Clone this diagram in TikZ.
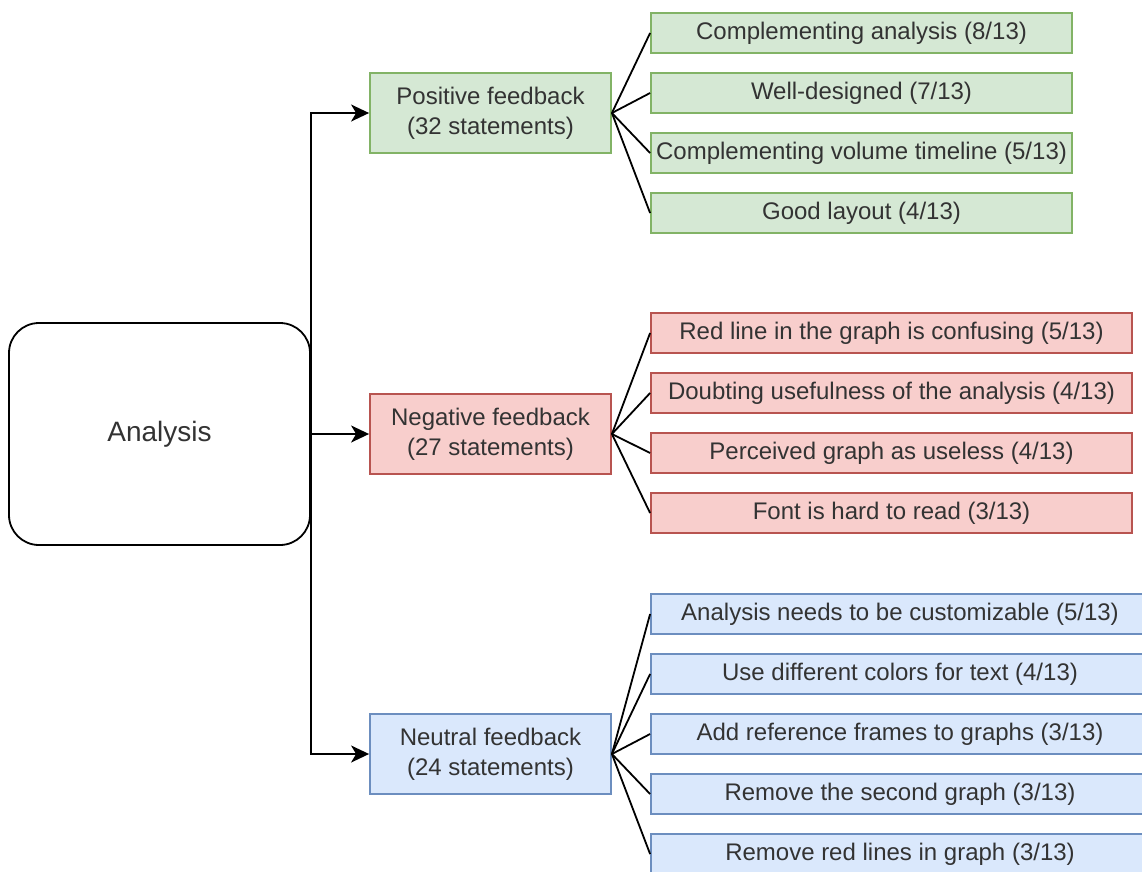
\documentclass[tikz,border=0pt]{standalone}
\usepackage{fontspec}
\setmainfont{Liberation Sans}
\usetikzlibrary{arrows.meta}
\definecolor{txt}{HTML}{333333}
\definecolor{gfill}{HTML}{D5E8D4}\definecolor{gline}{HTML}{82B366}
\definecolor{rfill}{HTML}{F8CECC}\definecolor{rline}{HTML}{B85450}
\definecolor{bfill}{HTML}{DAE8FC}\definecolor{bline}{HTML}{6C8EBF}
\tikzset{
  base/.style={rectangle, line width=1.8pt, inner sep=0pt, align=center,
    text=txt, font=\fontsize{24}{30}\selectfont},
  groupbox/.style={base, minimum width=241pt, minimum height=80pt},
  leafbox/.style={base, minimum height=40pt},
  greenbox/.style={fill=gfill, draw=gline},
  redbox/.style={fill=rfill, draw=rline},
  bluebox/.style={fill=bfill, draw=bline},
  wire/.style={line width=1.8pt, draw=black},
  feed/.style={wire, -{Stealth[length=18pt,width=17pt,inset=5pt]}}
}
\begin{document}
\begin{tikzpicture}[x=1pt, y=-1pt]
\useasboundingbox (0,0) rectangle (1142,871);

% root
\node[base, draw=black, rounded corners=30pt, minimum width=301pt, minimum height=222pt,
  font=\fontsize{28}{34}\selectfont]
  (ana) at (159.5,434) {Analysis};

% feedback groups
\node[groupbox,greenbox] (gp) at (490.5,113) {Positive feedback\\(32 statements)};
\node[groupbox,redbox]   (gn) at (490.5,434) {Negative feedback\\(27 statements)};
\node[groupbox,bluebox]  (gu) at (490.5,754) {Neutral feedback\\(24 statements)};

% positive statements
\node[leafbox,greenbox,minimum width=421pt] (p1) at (861.5,33)  {Complementing analysis (8/13)};
\node[leafbox,greenbox,minimum width=421pt] (p2) at (861.5,93)  {Well-designed (7/13)};
\node[leafbox,greenbox,minimum width=421pt] (p3) at (861.5,153) {Complementing volume timeline (5/13)};
\node[leafbox,greenbox,minimum width=421pt] (p4) at (861.5,213) {Good layout (4/13)};

% negative statements
\node[leafbox,redbox,minimum width=481pt] (n1) at (891.5,333) {Red line in the graph is confusing (5/13)};
\node[leafbox,redbox,minimum width=481pt] (n2) at (891.5,393) {Doubting usefulness of the analysis (4/13)};
\node[leafbox,redbox,minimum width=481pt] (n3) at (891.5,453) {Perceived graph as useless (4/13)};
\node[leafbox,redbox,minimum width=481pt] (n4) at (891.5,513) {Font is hard to read (3/13)};

% neutral statements
\node[leafbox,bluebox,minimum width=498pt] (u1) at (900,614) {Analysis needs to be customizable (5/13)};
\node[leafbox,bluebox,minimum width=498pt] (u2) at (900,674) {Use different colors for text (4/13)};
\node[leafbox,bluebox,minimum width=498pt] (u3) at (900,734) {Add reference frames to graphs (3/13)};
\node[leafbox,bluebox,minimum width=498pt] (u4) at (900,794) {Remove the second graph (3/13)};
\node[leafbox,bluebox,minimum width=498pt] (u5) at (900,854) {Remove red lines in graph (3/13)};

% root to groups
\draw[feed] (ana.east) |- (gp.west);
\draw[feed] (ana.east) -- (gn.west);
\draw[feed] (ana.east) |- (gu.west);

% groups to statements
\foreach \k in {p1,p2,p3,p4} \draw[wire] (gp.east) -- (\k.west);
\foreach \k in {n1,n2,n3,n4} \draw[wire] (gn.east) -- (\k.west);
\foreach \k in {u1,u2,u3,u4,u5} \draw[wire] (gu.east) -- (\k.west);
\end{tikzpicture}
\end{document}
